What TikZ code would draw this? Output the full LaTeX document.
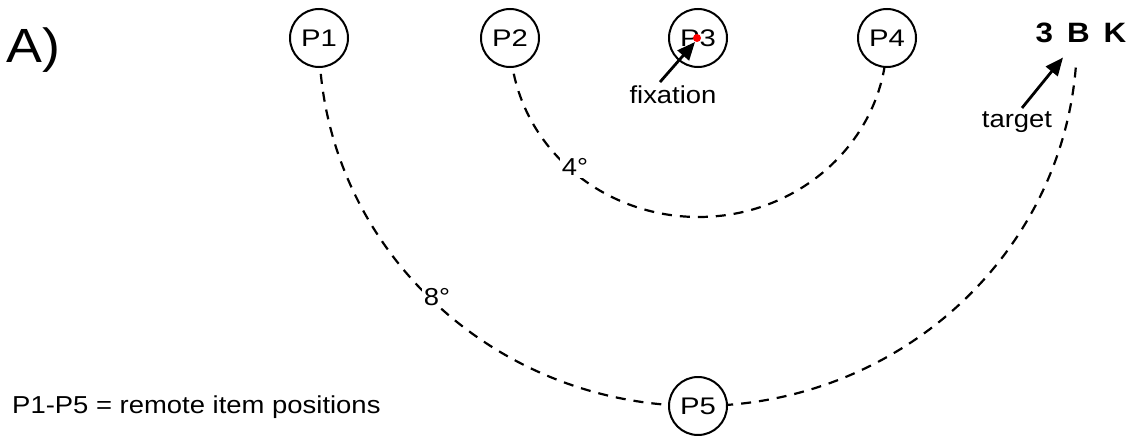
\documentclass[tikz,border=0pt]{standalone}
\usepackage{fontspec}
\setmainfont[FakeStretch=1.12]{Liberation Sans}
\newfontfamily\labfont[FakeStretch=1.22]{Liberation Sans}
\usetikzlibrary{arrows.meta}
\begin{document}
\begin{tikzpicture}[x=1pt,y=-1pt,
  posnode/.style={circle,draw,line width=2pt,fill=white,minimum size=58pt,inner sep=0pt,
    font=\labfont\fontsize{24}{26}\selectfont},
  arcline/.style={line width=2.2pt,dash pattern=on 10pt off 8pt},
  deglbl/.style={fill=white,inner sep=2pt,font=\fontsize{24.5}{26}\selectfont},
  txt/.style={inner sep=0pt,font=\fontsize{24.5}{26}\selectfont},
  pointer/.style={line width=2.8pt,-{Triangle[length=18pt,width=15pt]}}]
\useasboundingbox (0,0) rectangle (1135,436);
% positions (coordinates only, for the arcs)
\coordinate (c1) at (319,38);
\coordinate (c2) at (510,38);
\coordinate (c3) at (698,38);
\coordinate (c4) at (887,38);
\coordinate (c5) at (698,406);
% dashed arcs
\draw[arcline] (c2) arc[start angle=180,end angle=0,x radius=188.5,y radius=179];
\draw[arcline] (c1) arc[start angle=180,end angle=4,x radius=379,y radius=368] coordinate (tend);
% degree labels
\node[deglbl] (d4) at (575,167) {4°};
\node[deglbl] (d8) at (437,297) {8°};
% position circles
\node[posnode] (P1) at (c1) {P1};
\node[posnode] (P2) at (c2) {P2};
\node[posnode] (P3) at (c3) {P3};
\node[posnode] (P4) at (c4) {P4};
\node[posnode] (P5) at (c5) {P5};
% fixation dot
\node[circle,fill=red,inner sep=0pt,minimum size=8pt] (dot) at (697,38) {};
% texts
\node[anchor=base west,inner sep=0pt,font=\fontsize{48}{50}\selectfont] (A) at (6,63) {A)};
\node[txt,anchor=base] (fix) at (673,103) {fixation};
\node[txt,anchor=base] (tgtlbl) at (1017,127) {target};
\node[inner sep=0pt,anchor=base,font=\bfseries\fontsize{28}{30}\selectfont] (tgt) at (1081,43) {3\hspace{0.5em}B\hspace{0.5em}K};
\node[txt,anchor=base west] (note) at (12,413) {P1-P5 = remote item positions};
% pointers
\draw[pointer] ([xshift=-13pt,yshift=3pt]fix.north) -- ([xshift=-2pt,yshift=-4pt]dot.center);
\draw[pointer] ([xshift=5pt,yshift=3pt]tgtlbl.north) -- ([xshift=-18pt,yshift=-14pt]tgt.south);
\end{tikzpicture}
\end{document}
